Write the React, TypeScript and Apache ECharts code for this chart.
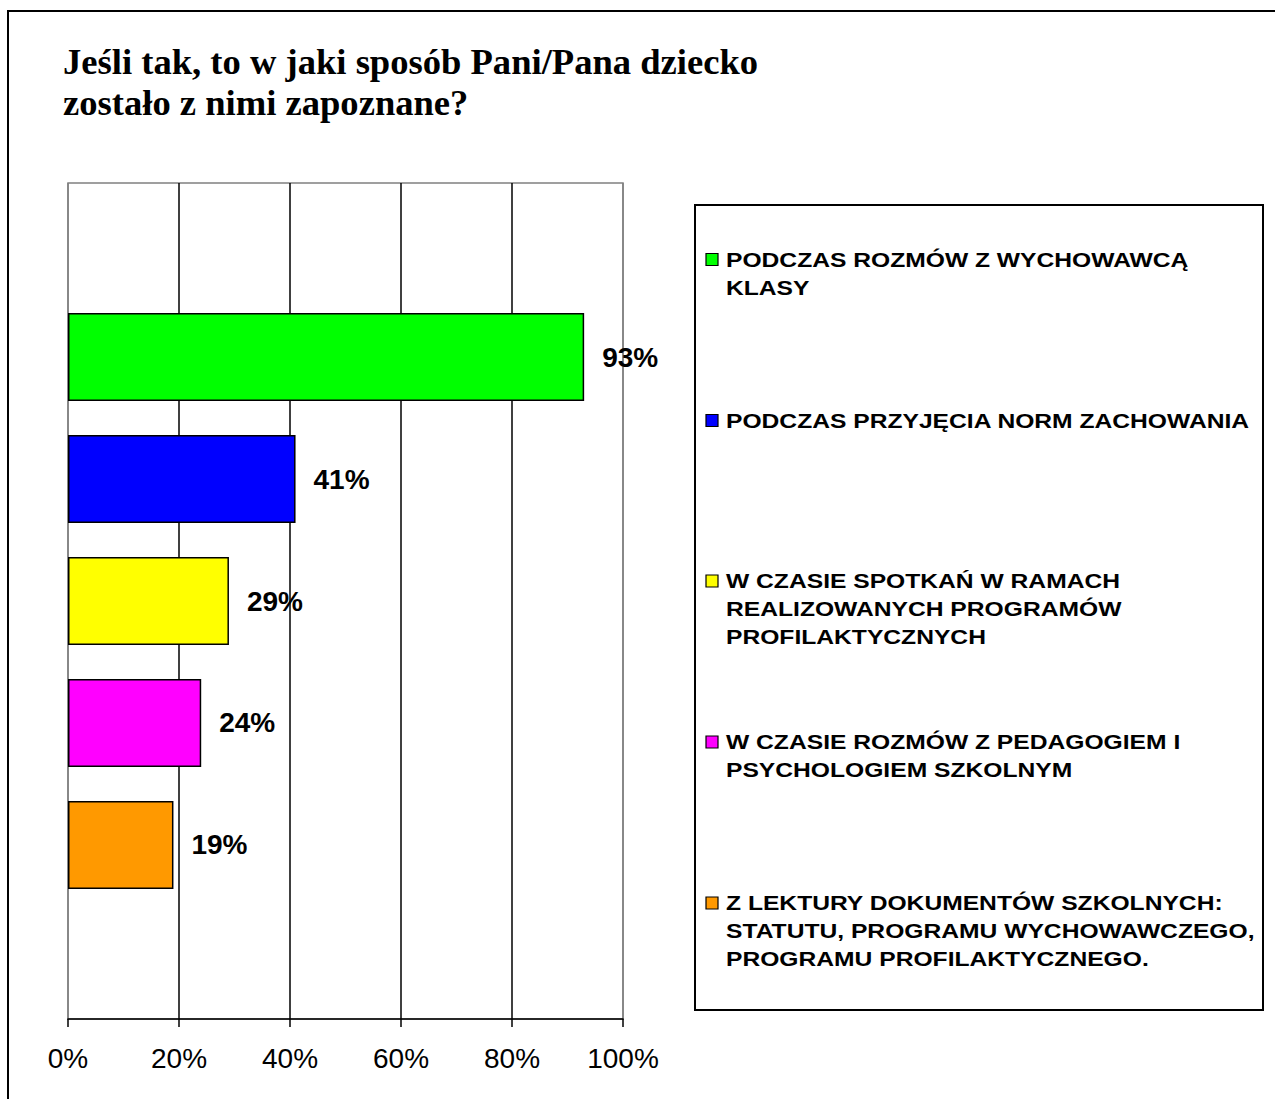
import React, { useEffect, useRef } from "react";
import * as echarts from "echarts";

const titleText = "Jeśli tak, to w jaki sposób Pani/Pana dziecko\nzostało z nimi zapoznane?";

const seriesNames = [
  "PODCZAS ROZMÓW Z WYCHOWAWCĄ KLASY",
  "PODCZAS PRZYJĘCIA NORM ZACHOWANIA",
  "W CZASIE SPOTKAŃ W RAMACH REALIZOWANYCH PROGRAMÓW PROFILAKTYCZNYCH",
  "W CZASIE ROZMÓW Z PEDAGOGIEM I PSYCHOLOGIEM SZKOLNYM",
  "Z LEKTURY DOKUMENTÓW SZKOLNYCH: STATUTU, PROGRAMU WYCHOWAWCZEGO, PROGRAMU PROFILAKTYCZNEGO.",
];

const legendLines = [
  ["PODCZAS ROZMÓW Z WYCHOWAWCĄ", "KLASY"],
  ["PODCZAS PRZYJĘCIA NORM ZACHOWANIA"],
  ["W CZASIE SPOTKAŃ W RAMACH", "REALIZOWANYCH PROGRAMÓW", "PROFILAKTYCZNYCH"],
  ["W CZASIE ROZMÓW Z PEDAGOGIEM I", "PSYCHOLOGIEM SZKOLNYM"],
  ["Z LEKTURY DOKUMENTÓW SZKOLNYCH:", "STATUTU, PROGRAMU WYCHOWAWCZEGO,", "PROGRAMU PROFILAKTYCZNEGO."],
];

const values = [93, 41, 29, 24, 19];
const colors = ["#00FF00", "#0000FF", "#FFFF00", "#FF00FF", "#FF9900"];
const xMin = 0;
const xMax = 100;
const xInterval = 20;

const legendFirstLineY = [259.5, 420.5, 581, 742, 903];

export default function App() {
  const ref = useRef<HTMLDivElement>(null);

  useEffect(() => {
    if (!ref.current) return;
    const chart = echarts.init(ref.current, null, { renderer: "svg" });

    const legendGraphics: any[] = [];
    legendLines.forEach((lines, i) => {
      const cy = legendFirstLineY[i];
      legendGraphics.push({
        type: "rect",
        shape: { x: 706, y: cy - 6, width: 12, height: 12 },
        style: { fill: colors[i], stroke: "#000", lineWidth: 1.2 },
      });
      legendGraphics.push({
        type: "text",
        x: 726,
        y: cy - 14,
        scaleX: 1.174,
        style: {
          text: lines.join("\n"),
          font: "bold 21px 'Liberation Sans', Arial, sans-serif",
          lineHeight: 28,
          fill: "#000",
          verticalAlign: "top",
          align: "left",
        },
      });
    });

    const option: any = {
      animation: false,
      backgroundColor: "#fff",
      title: {
        text: titleText,
        left: 63,
        top: 41,
        padding: 0,
        textStyle: {
          fontFamily: "'Liberation Serif', 'Times New Roman', serif",
          fontWeight: "bold",
          fontSize: 36.6,
          lineHeight: 41,
          color: "#000",
        },
      },
      grid: {
        left: 68,
        right: 652,
        top: 183,
        bottom: 80,
        show: true,
        borderColor: "#808080",
        borderWidth: 1.5,
        backgroundColor: "transparent",
      },
      xAxis: {
        type: "value",
        min: xMin,
        max: xMax,
        interval: xInterval,
        axisLine: { show: true, lineStyle: { color: "#000", width: 1.5 } },
        axisTick: { show: true, length: 8, inside: false, lineStyle: { color: "#000", width: 1.5 } },
        axisLabel: {
          formatter: "{value}%",
          fontFamily: "'Liberation Sans', Arial, sans-serif",
          fontSize: 28,
          color: "#000",
          margin: 25,
        },
        splitLine: {
          show: true,
          lineStyle: { color: ["#808080", "#000", "#000", "#000", "#000", "#808080"], width: 1.5 },
        },
      },
      yAxis: {
        type: "category",
        data: [""],
        axisLine: { show: false },
        axisTick: { show: false },
        axisLabel: { show: false },
      },
      series: seriesNames.map((name, i) => ({
        type: "bar",
        name,
        data: [values[i]],
        barWidth: 88,
        barGap: "38.6%",
        itemStyle: { color: colors[i], borderColor: "#000", borderWidth: 1.5 },
        label: {
          show: true,
          position: "right",
          distance: 18,
          formatter: "{c}%",
          fontFamily: "'Liberation Sans', Arial, sans-serif",
          fontWeight: "bold",
          fontSize: 28,
          color: "#000",
        },
      })),
      graphic: [
        {
          type: "rect",
          shape: { x: 8, y: 11, width: 1400, height: 1200 },
          style: { fill: "none", stroke: "#000", lineWidth: 2 },
          silent: true,
        },
        {
          type: "rect",
          shape: { x: 695, y: 205, width: 568, height: 805 },
          style: { fill: "#fff", stroke: "#000", lineWidth: 2 },
        },
        ...legendGraphics,
      ],
    };

    chart.setOption(option);
    return () => chart.dispose();
  }, []);

  return (
    <div
      ref={ref}
      style={{ position: "absolute", left: 0, top: 0, width: 1275, height: 1099 }}
    />
  );
}
